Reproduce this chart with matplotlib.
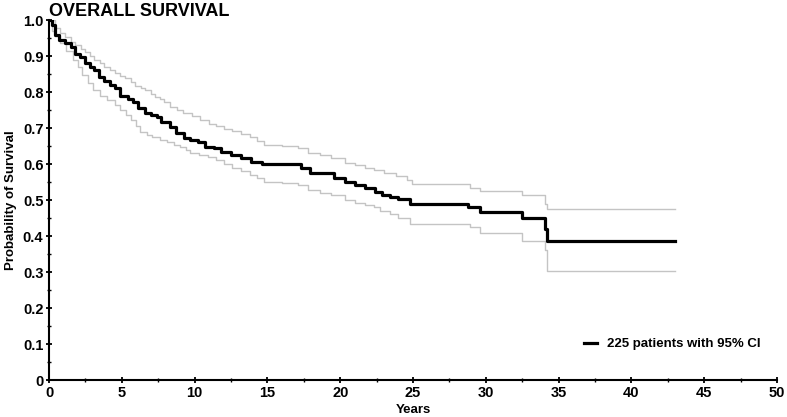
import matplotlib
matplotlib.use("Agg")
import matplotlib.pyplot as plt
from matplotlib.ticker import MultipleLocator, FixedLocator

# Kaplan-Meier estimate (step, post)
surv_t = [0, 0.2, 0.4, 0.7, 1.1, 1.5, 1.8, 2.1, 2.5, 2.8, 3.1, 3.4, 3.8, 4.2, 4.5, 4.9,
          5.4, 5.8, 6.1, 6.6, 7.0, 7.4, 7.7, 8.3, 8.7, 9.3, 9.7, 10.2, 10.7, 11.3,
          11.8, 12.5, 13.2, 13.9, 14.6, 17.3, 17.9, 19.6, 20.3, 21.0, 21.7, 22.4,
          22.9, 23.4, 24.0, 24.8, 28.8, 29.6, 32.5, 34.1, 34.2, 43.0]
surv_s = [1.0, 0.985, 0.958, 0.945, 0.935, 0.925, 0.905, 0.897, 0.88, 0.869, 0.862, 0.842,
          0.83, 0.819, 0.811, 0.79, 0.781, 0.772, 0.756, 0.742, 0.736, 0.731, 0.717,
          0.703, 0.686, 0.672, 0.667, 0.661, 0.647, 0.644, 0.633, 0.625, 0.617, 0.606,
          0.601, 0.589, 0.575, 0.561, 0.55, 0.542, 0.533, 0.522, 0.514, 0.508, 0.503,
          0.489, 0.48, 0.467, 0.45, 0.42, 0.387, 0.387]

# Upper 95% CI
up_t = [0, 0.4, 0.75, 1.1, 1.5, 1.8, 2.2, 2.5, 2.8, 3.1, 3.5, 3.8, 4.2, 4.5, 4.9,
        5.2, 5.6, 5.9, 6.3, 6.6, 7.0, 7.3, 7.6, 7.9, 8.3, 8.8, 9.2, 9.8, 10.4, 11.0,
        11.5, 12.0, 12.6, 13.2, 13.8, 14.3, 14.8, 16.0, 17.1, 17.8, 18.6, 19.4, 20.3,
        21.0, 21.7, 22.3, 23.0, 23.8, 24.6, 24.9, 28.9, 29.6, 32.5, 34.1, 34.2, 43.0]
up_s = [1.0, 0.978, 0.965, 0.953, 0.94, 0.93, 0.92, 0.911, 0.9, 0.89, 0.88, 0.87,
        0.862, 0.853, 0.845, 0.838, 0.828, 0.818, 0.812, 0.806, 0.795, 0.786, 0.78,
        0.772, 0.758, 0.75, 0.742, 0.732, 0.722, 0.712, 0.705, 0.698, 0.692, 0.684,
        0.675, 0.664, 0.653, 0.649, 0.644, 0.631, 0.624, 0.617, 0.603, 0.596, 0.589,
        0.582, 0.575, 0.566, 0.556, 0.544, 0.533, 0.525, 0.514, 0.49, 0.475, 0.475]

# Lower 95% CI
lo_t = [0, 0.2, 0.4, 0.75, 1.2, 1.65, 2.0, 2.3, 2.7, 3.0, 3.5, 4.0, 4.5, 4.9, 5.3,
        5.6, 6.0, 6.25, 6.7, 7.1, 7.6, 8.1, 8.6, 9.0, 9.4, 9.7, 10.3, 10.9, 11.5,
        12.0, 12.6, 13.2, 13.8, 14.3, 14.8, 16.0, 17.1, 17.8, 18.6, 19.4, 20.3, 21.0,
        21.7, 22.3, 22.7, 23.4, 24.0, 24.8, 28.9, 29.6, 32.5, 34.1, 34.2, 43.0]
lo_s = [1.0, 0.97, 0.955, 0.936, 0.915, 0.889, 0.87, 0.847, 0.825, 0.806, 0.79,
        0.778, 0.765, 0.75, 0.735, 0.722, 0.705, 0.689, 0.68, 0.675, 0.668, 0.661,
        0.654, 0.647, 0.638, 0.631, 0.625, 0.619, 0.61, 0.6, 0.59, 0.58, 0.57, 0.56,
        0.551, 0.547, 0.542, 0.528, 0.52, 0.514, 0.5, 0.493, 0.486, 0.48, 0.47, 0.46,
        0.45, 0.433, 0.425, 0.408, 0.386, 0.36, 0.303, 0.303]

x_ticks = [0, 5, 10, 15, 20, 25, 30, 35, 40, 45, 50]
y_ticks = [0, 0.1, 0.2, 0.3, 0.4, 0.5, 0.6, 0.7, 0.8, 0.9, 1.0]
y_tick_labels = ["0", "0.1", "0.2", "0.3", "0.4", "0.5", "0.6", "0.7", "0.8", "0.9", "1.0"]

plt.rcParams['font.family'] = ['Liberation Sans', 'DejaVu Sans']
plt.rcParams['font.weight'] = 'bold'

fig = plt.figure(figsize=(7.87, 4.17), dpi=100)
ax = fig.add_axes([49/787, 1-380/417, (777-49)/787, (380-20)/417])

ax.step(up_t, up_s, where='post', color='#c4c4c4', lw=1.0, zorder=2)
ax.step(lo_t, lo_s, where='post', color='#c4c4c4', lw=1.0, zorder=2)
ax.step(surv_t, surv_s, where='post', color='black', lw=2.3, zorder=3,
        label='225 patients with 95% CI')

ax.set_xlim(0, 50)
ax.set_ylim(0, 1.0)
ax.xaxis.set_major_locator(FixedLocator(x_ticks))
ax.set_xticklabels([str(v) for v in x_ticks])
ax.xaxis.set_minor_locator(MultipleLocator(2.5))
ax.yaxis.set_major_locator(FixedLocator(y_ticks))
ax.set_yticklabels(y_tick_labels)
ax.yaxis.set_minor_locator(MultipleLocator(0.05))

for s in ['top', 'right']:
    ax.spines[s].set_visible(False)
for s in ['left', 'bottom']:
    ax.spines[s].set_linewidth(1.5)
    ax.spines[s].set_color('black')

ax.tick_params(axis='both', which='major', direction='inout', length=5, width=1.3,
               labelsize=10.5, pad=1.5)
ax.tick_params(axis='both', which='minor', direction='inout', length=3, width=1.0)
for lab in ax.get_xticklabels() + ax.get_yticklabels():
    lab.set_fontweight('bold')

ax.set_xlabel('Years', fontsize=9.5, fontweight='bold', labelpad=3)
ax.set_ylabel('Probability of Survival', fontsize=9.5, fontweight='bold', labelpad=4)

fig.text(49/787, 1-11/417, 'OVERALL SURVIVAL', fontsize=13, fontweight='bold',
         ha='left', va='center')

leg = ax.legend(loc='lower right', bbox_to_anchor=(0.994, 0.05), frameon=False,
                fontsize=9.5, handlelength=1.0, handletextpad=0.8)
for t in leg.get_texts():
    t.set_fontweight('bold')

fig.savefig('out.png', dpi=100)
